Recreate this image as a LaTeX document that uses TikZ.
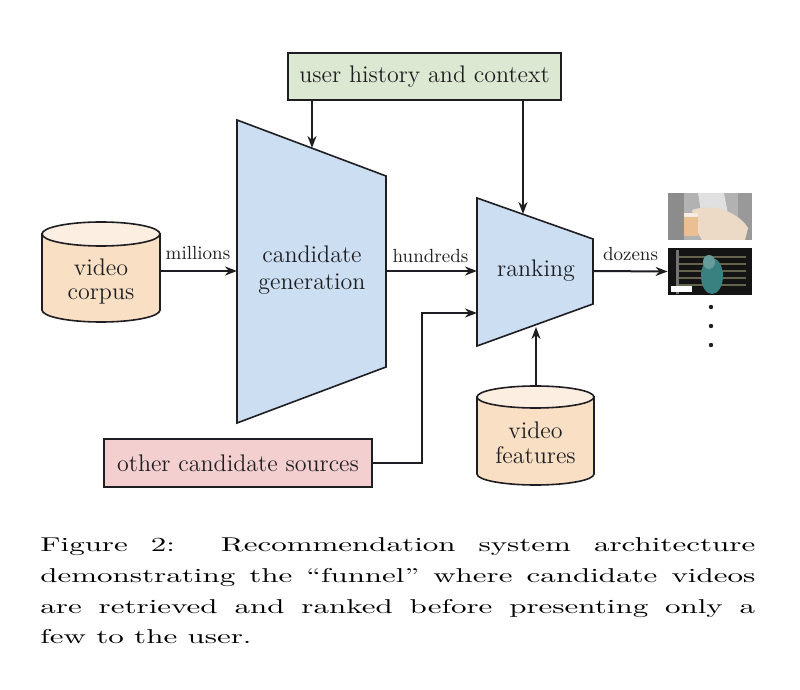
\documentclass[tikz,border=0pt]{standalone}
\usepackage{graphicx}
\usetikzlibrary{arrows.meta,calc}
\definecolor{histfill}{HTML}{DDE8D2}
\definecolor{otherfill}{HTML}{F3CFCF}
\definecolor{funnelfill}{HTML}{CCDFF2}
\definecolor{cylfill}{HTML}{F9E0C4}
\definecolor{cyltop}{HTML}{FCEFE2}
\definecolor{ink}{HTML}{1E1E22}
\newcommand{\capjust}[1]{\scalebox{1.55}[1]{\makebox[230.6pt][s]{#1}}}
\newcommand{\capnat}[1]{\scalebox{1.55}[1]{#1}}
\begin{document}
\begin{tikzpicture}[x=0.5pt,y=-0.5pt,
  every node/.style={inner sep=0pt, text=ink},
  edge/.style={draw=ink, line width=1pt},
  arr/.style={edge, -{Stealth[length=6pt,width=4.5pt]}},
  box/.style={draw=ink, line width=0.8pt, minimum height=23.5pt, font=\fontsize{12}{14}\selectfont},
  funnel/.style={draw=ink, line width=0.8pt, fill=funnelfill},
  cyl/.style={draw=ink, line width=0.8pt, fill=cylfill},
  cyllabel/.style={align=center, font=\fontsize{12}{12.5}\selectfont},
  biglabel/.style={align=center, font=\fontsize{12}{13.5}\selectfont},
  flow/.style={anchor=base, font=\fontsize{9.5}{11}\selectfont},
  frame/.style={minimum width=#1, minimum height=50pt, inner sep=0pt},
  capline/.style={anchor=base west, text=black, font=\fontsize{10}{15.5}\selectfont},
]
\useasboundingbox (0,0) rectangle (800,690);
\fill[white] (0,0) rectangle (800,690);

% ---- top box
\node[box, fill=histfill, minimum width=136.5pt] (hist) at (424.5,76.5) {user history and context};

% ---- candidate generation funnel
\coordinate (cgtl) at (237,120);
\coordinate (cgtr) at (386,176);
\coordinate (cgbr) at (386,367);
\coordinate (cgbl) at (237,423);
\path[funnel] (cgtl) -- (cgtr) -- (cgbr) -- (cgbl) -- cycle;
\node[biglabel] (cglabel) at (312,270.5) {candidate\\generation};

% ---- ranking funnel
\coordinate (rktl) at (477,198);
\coordinate (rktr) at (593,239);
\coordinate (rkbr) at (593,304);
\coordinate (rkbl) at (477,346);
\path[funnel] (rktl) -- (rktr) -- (rkbr) -- (rkbl) -- cycle;
\node[biglabel] (rklabel) at (536,271) {ranking};

% ---- video corpus cylinder
\path[cyl] (42,234) -- (42,310) arc[start angle=180,end angle=0,x radius=59,y radius=12] -- (160,234) -- cycle;
\path[cyl, fill=cyltop] (101,234) ellipse[x radius=59, y radius=12];
\node[frame=59pt] (corpus) at (101,271) {};
\node[cyllabel] (corpuslabel) at (101,281.5) {video\\corpus};

% ---- video features cylinder
\path[cyl] (477,397) -- (477,474) arc[start angle=180,end angle=0,x radius=58.5,y radius=11] -- (594,397) -- cycle;
\path[cyl, fill=cyltop] (535.5,397) ellipse[x radius=58.5, y radius=11];
\node[frame=58.5pt] (features) at (535.5,435.5) {};
\node[cyllabel] (featureslabel) at (535.5,442.6) {video\\features};

% ---- other candidate sources
\node[box, fill=otherfill, minimum width=134pt, minimum height=24pt] (other) at (238,463) {other candidate sources};

% ---- output thumbnails
\node[minimum width=42pt, minimum height=23.5pt] (img1) at (710,216.5) {};
\node[minimum width=42pt, minimum height=23.5pt] (img2) at (710,271.5) {};
\begin{scope}
  \clip (img1.north west) rectangle (img1.south east);
  \fill[black!30] (img1.north west) rectangle (img1.south east);
  \fill[black!45] (668,193) rectangle (684,240);
  \fill[black!40] (738,193) rectangle (752,240);
  \fill[black!12] (698,193) -- (724,193) -- (728,214) -- (702,218) -- cycle;
  \fill[brown!30!white] (692,210) .. controls (715,202) and (740,214) .. (748,228) -- (745,240) -- (702,240) .. controls (696,230) .. (692,210);
  \fill[orange!40!brown!50!white] (684,213) rectangle (698,236);
  \fill[white!85!brown] (684,213) rectangle (698,217);
\end{scope}
\begin{scope}
  \clip (img2.north west) rectangle (img2.south east);
  \fill[black!92] (img2.north west) rectangle (img2.south east);
  \foreach \yy in {256,263,270,277,284} {
    \fill[black!55!yellow!60!white, opacity=0.5] (678,\yy) rectangle (746,\yy+2);
  }
  \fill[black!55] (676,250) rectangle (679,294);
  \fill[teal!55!gray] (712,276) ellipse[x radius=11, y radius=18];
  \fill[black!30!teal!60!white] (709,262) ellipse[x radius=6, y radius=7];
  \fill[white] (671,286) rectangle (692,292);
\end{scope}
\fill[ink] (711,307) circle[radius=2.2];
\fill[ink] (711,326) circle[radius=2.2];
\fill[ink] (711,345) circle[radius=2.2];

% ---- connectors
\coordinate (cgin) at (312,148);
\coordinate (rkin) at (523,214);
\draw[arr] (hist.south -| cgin) -- (cgin);
\draw[arr] (hist.south -| rkin) -- (rkin);
\draw[arr] (corpus.east) -- (corpus.east -| cgtl);
\coordinate (cgout) at (386,271);
\draw[arr] (cgout) -- (cgout -| rktl);
\coordinate (rkout) at (593,271);
\draw[arr] (rkout) -- (img2.west);
\coordinate (bend) at (422,313);
\coordinate (rkside) at (477,313);
\draw[arr] (other.east) -| (bend) -- (rkside);
\coordinate (rkbot) at (536,327);
\draw[arr] (features.north -| rkbot) -- (rkbot);

% ---- flow labels
\node[flow] (lmillions) at (198,260) {millions};
\node[flow] (lhundreds) at (430.5,262.5) {hundreds};
\node[flow] (ldozens) at (630.5,260.5) {dozens};

% ---- caption
\node[capline] (cap1) at (40,551.5) {\capjust{Figure 2:\ \ Recommendation system architecture}};
\node[capline] (cap2) at (40,582.5) {\capjust{demonstrating the “funnel” where candidate videos}};
\node[capline] (cap3) at (40,613.3) {\capjust{are retrieved and ranked before presenting only a}};
\node[capline] (cap4) at (40,644) {\capnat{few to the user.}};
\end{tikzpicture}
\end{document}
